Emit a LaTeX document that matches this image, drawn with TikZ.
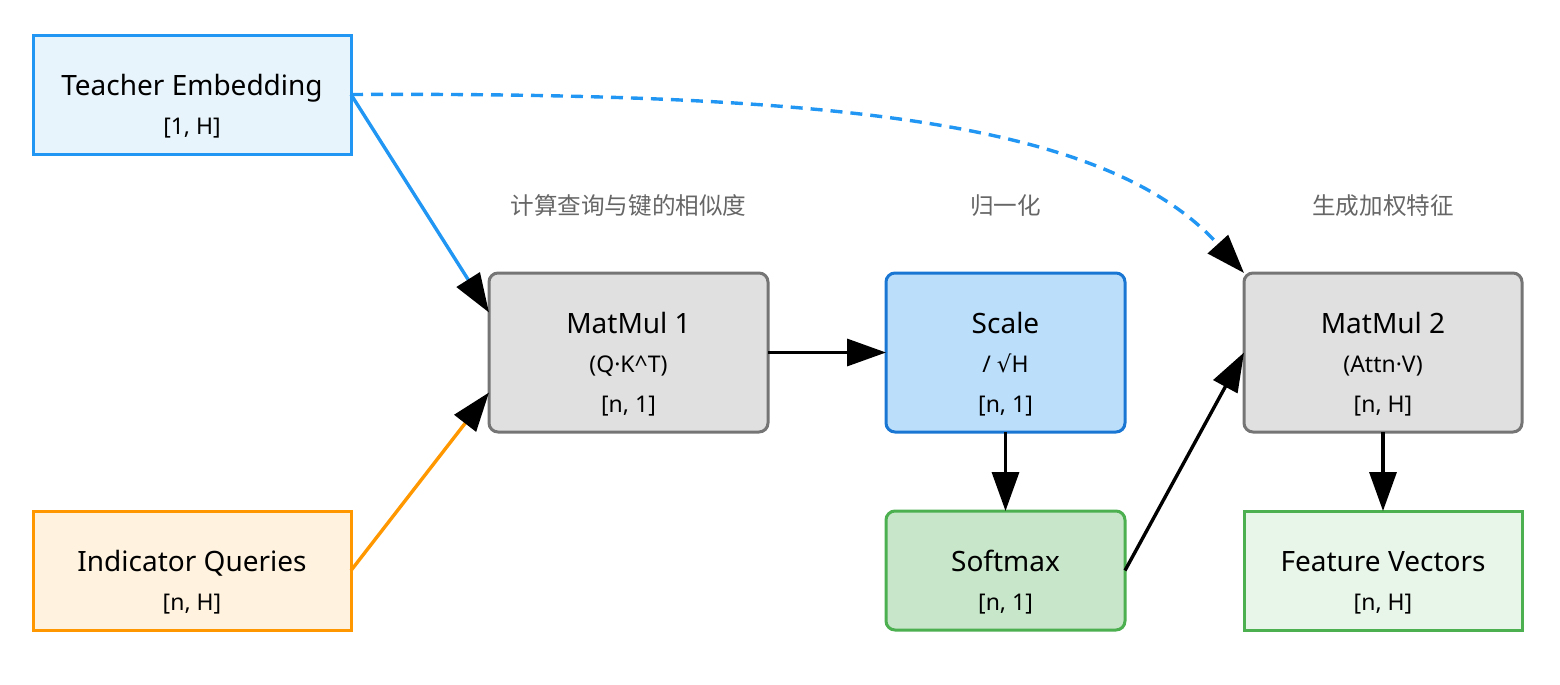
\documentclass[tikz,border=0pt]{standalone}
\usepackage{fontspec}
\setmainfont{Noto Sans}
\newfontfamily\cjk{Noto Sans CJK SC}
\newfontfamily\symfont{DejaVu Sans}
\usetikzlibrary{arrows.meta,calc}
\definecolor{tefill}{HTML}{E8F4FB}
\definecolor{tedraw}{HTML}{2196F3}
\definecolor{iqfill}{HTML}{FFF3E0}
\definecolor{iqdraw}{HTML}{FF9800}
\definecolor{mmfill}{HTML}{E0E0E0}
\definecolor{mmdraw}{HTML}{757575}
\definecolor{scfill}{HTML}{BBDEFB}
\definecolor{scdraw}{HTML}{1976D2}
\definecolor{smfill}{HTML}{C8E6C9}
\definecolor{smdraw}{HTML}{4CAF50}
\definecolor{fvfill}{HTML}{E8F5E9}
\definecolor{labgray}{HTML}{666666}
\begin{document}
\begin{tikzpicture}[x=0.5pt,y=-0.5pt,
  box/.style={draw, line width=1.5pt, inner sep=0pt, outer sep=0pt},
  rbox/.style={box, rounded corners=4.5pt},
  ttl/.style={anchor=base, inner sep=0pt, font=\fontsize{14}{16}\selectfont},
  sub/.style={anchor=base, inner sep=0pt, font=\fontsize{11.5}{14}\selectfont},
  captxt/.style={inner sep=0pt, text=labgray, font=\cjk\fontsize{11.8}{14}\selectfont},
  arr/.style={line width=1.7pt, -{Triangle[length=19.5pt,width=13.5pt,color=black]}}
]
\useasboundingbox (0,0) rectangle (1560,685);

% boxes
\node[box, fill=tefill, draw=tedraw, minimum width=159pt, minimum height=59.5pt] (te) at (192,94.5) {};
\node[box, fill=iqfill, draw=iqdraw, minimum width=159pt, minimum height=59.5pt] (iq) at (192,570.5) {};
\node[rbox, fill=mmfill, draw=mmdraw, minimum width=139.5pt, minimum height=79.5pt] (mm1) at (628.5,352.5) {};
\node[rbox, fill=scfill, draw=scdraw, minimum width=119.5pt, minimum height=79.5pt] (sc) at (1005.5,352.5) {};
\node[rbox, fill=smfill, draw=smdraw, minimum width=119.5pt, minimum height=59.5pt] (sm) at (1005.5,570.5) {};
\node[rbox, fill=mmfill, draw=mmdraw, minimum width=139pt, minimum height=79.5pt] (mm2) at (1383,352.5) {};
\node[box, fill=fvfill, draw=smdraw, minimum width=139pt, minimum height=59.5pt] (fv) at (1383,570.5) {};

% texts
\node[ttl] (teT) at ($(te.north)+(0,60)$) {Teacher Embedding};
\node[sub] (teS) at ($(te.north)+(0,99)$) {[1, H]};
\node[ttl] (iqT) at ($(iq.north)+(0,60)$) {Indicator Queries};
\node[sub] (iqS) at ($(iq.north)+(0,99)$) {[n, H]};
\node[ttl] (mm1T) at ($(mm1.north)+(0,60)$) {MatMul 1};
\node[sub] (mm1S) at ($(mm1.north)+(0,99)$) {(Q·K\textasciicircum T)};
\node[sub] (mm1U) at ($(mm1.north)+(0,139)$) {[n, 1]};
\node[ttl] (scT) at ($(sc.north)+(0,60)$) {Scale};
\node[sub] (scS) at ($(sc.north)+(0,99)$) {/ {\symfont √}H};
\node[sub] (scU) at ($(sc.north)+(0,139)$) {[n, 1]};
\node[ttl] (smT) at ($(sm.north)+(0,60)$) {Softmax};
\node[sub] (smS) at ($(sm.north)+(0,99)$) {[n, 1]};
\node[ttl] (mm2T) at ($(mm2.north)+(0,60)$) {MatMul 2};
\node[sub] (mm2S) at ($(mm2.north)+(0,99)$) {(Attn·V)};
\node[sub] (mm2U) at ($(mm2.north)+(0,139)$) {[n, H]};
\node[ttl] (fvT) at ($(fv.north)+(0,60)$) {Feature Vectors};
\node[sub] (fvS) at ($(fv.north)+(0,99)$) {[n, H]};

% captions
\node[captxt] (c1) at (628.5,206) {计算查询与键的相似度};
\node[captxt] (c2) at (1005.5,206) {归一化};
\node[captxt] (c3) at (1383,206) {生成加权特征};

% connector endpoints
\coordinate (mm1a) at ($(mm1.west)+(0,-40)$);
\coordinate (mm1b) at ($(mm1.west)+(0,40)$);

% connectors
\draw[arr, draw=tedraw] (te.east) -- (mm1a);
\draw[arr, draw=iqdraw] (iq.east) -- (mm1b);
\draw[arr] (mm1.east) -- (sc.west);
\draw[arr] (sc.south) -- (sm.north);
\draw[arr] (sm.east) -- (mm2.west);
\draw[arr] (mm2.south) -- (fv.north);
\draw[arr, draw=tedraw, dash pattern=on 6pt off 4pt] (te.east) .. controls (850,92) and (1110,125) .. (mm2.north west);
\end{tikzpicture}
\end{document}
